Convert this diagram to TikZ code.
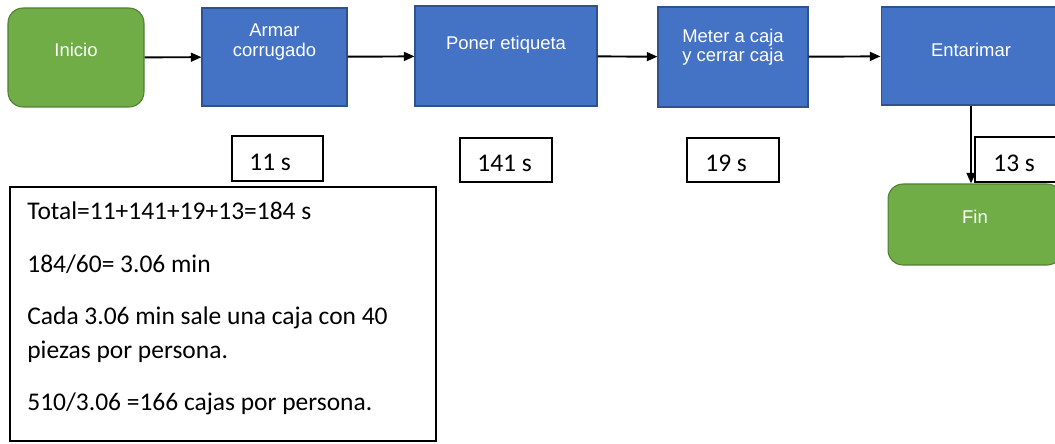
\documentclass[tikz,border=0pt]{standalone}
\usepackage{fontspec}
\setmainfont{Carlito}
\newfontfamily\arialfont{Liberation Sans}
\usetikzlibrary{arrows.meta}
\definecolor{stepblue}{HTML}{4472C4}
\definecolor{stepblueline}{HTML}{2F528F}
\definecolor{termgreen}{HTML}{70AD47}
\definecolor{termgreenline}{HTML}{507E32}

\begin{document}
\begin{tikzpicture}[x=0.02cm,y=-0.02cm,
  procbox/.style={draw=stepblueline, line width=0.6pt, fill=stepblue, inner sep=0pt},
  termbox/.style={draw=termgreenline, line width=0.6pt, fill=termgreen, rounded corners=0.3cm, inner sep=0pt},
  wtxt/.style={text=white, font=\arialfont\fontsize{10.5}{11}\selectfont, align=center, inner sep=0pt},
  timebox/.style={draw, line width=1pt, fill=white, minimum width=1.83cm, minimum height=0.89cm, inner sep=0pt},
  ttxt/.style={font=\fontsize{14.5}{17}\selectfont, anchor=base west, inner sep=0pt},
  notebox/.style={draw, line width=1pt, fill=white, minimum width=8.52cm, minimum height=5.08cm, inner sep=0pt},
  flow/.style={line width=1.1pt, -{Triangle[length=6pt,width=5pt]}},
]
\clip (0,0) rectangle (1055,443);
\fill[white] (0,0) rectangle (1055,443);

% process chain
\node[termbox, minimum width=2.72cm, minimum height=1.98cm] (ini) at (76,57.5) {};
\node[procbox, minimum width=2.90cm, minimum height=1.96cm] (arm) at (274.5,57) {};
\node[procbox, minimum width=3.64cm, minimum height=2.00cm] (pon) at (506,56) {};
\node[procbox, minimum width=3.00cm, minimum height=2.00cm] (met) at (733,57) {};
\node[procbox, minimum width=3.60cm, minimum height=1.96cm] (ent) at (971,56) {};
\node[termbox, minimum width=3.48cm, minimum height=1.62cm] (fin) at (975,224.5) {};

\node[wtxt] (iniT) at (76,50) {Inicio};
\node[wtxt] (armT) at (274.5,42) {Armar\\corrugado};
\node[wtxt] (ponT) at (506,45) {Poner etiqueta};
\node[wtxt] (metT) at (733,47) {Meter a caja\\y cerrar caja};
\node[wtxt] (entT) at (971,50) {Entarimar};
\node[wtxt] (finT) at (975,217) {Fin};

% step times
\node[timebox] (t1) at (277.5,158.5) {};
\node[timebox] (t2) at (506,160) {};
\node[timebox] (t3) at (733,160) {};
\node[timebox] (t4) at (1021,159.5) {};
\node[ttxt] (t1T) at (249,170) {11 s};
\node[ttxt] (t2T) at (477,171) {141 s};
\node[ttxt] (t3T) at (705,171) {19 s};
\node[ttxt] (t4T) at (993,171) {13 s};

% calculation notes
\node[notebox] (calc) at (223,314) {};
\node[ttxt] (c1) at (27,219) {Total=11+141+19+13=184 s};
\node[ttxt] (c2) at (27,272) {184/60= 3.06 min};
\node[ttxt] (c3) at (27,324) {Cada 3.06 min sale una caja con 40};
\node[ttxt] (c4) at (27,358) {piezas por persona.};
\node[ttxt] (c5) at (27,410) {510/3.06 =166 cajas por persona.};

% connectors
\draw[flow] (ini) -- (arm);
\draw[flow] (arm) -- (pon);
\draw[flow] (pon) -- (met);
\draw[flow] (met) -- (ent);
\draw[flow] (ent.south) -- (ent.south |- fin.north);
\end{tikzpicture}
\end{document}
